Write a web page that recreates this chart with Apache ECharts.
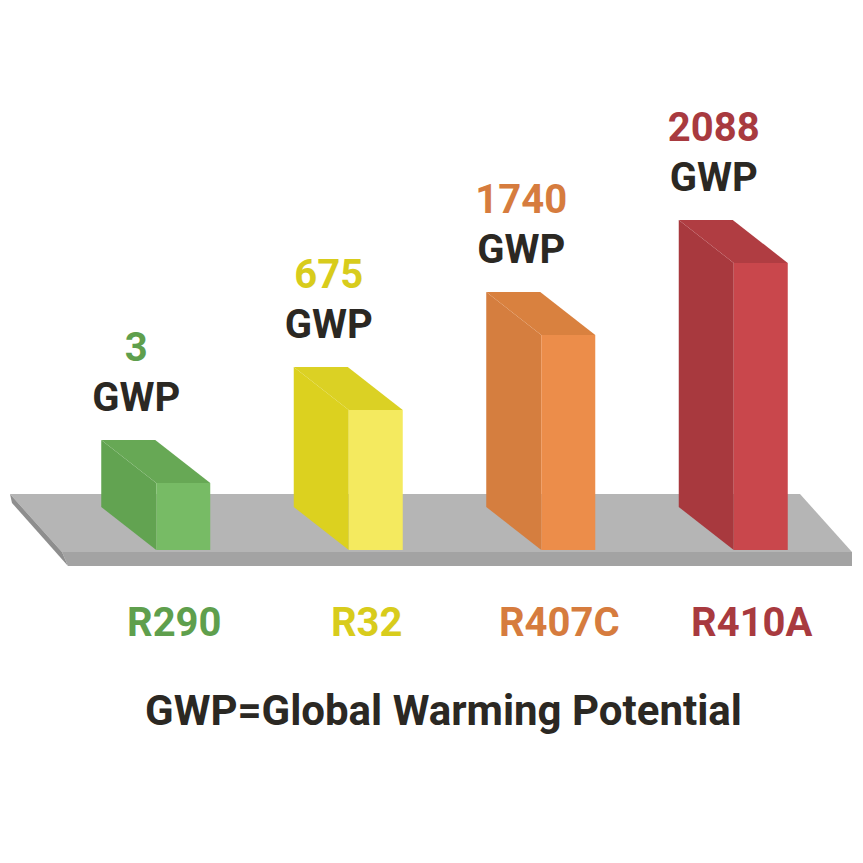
<!DOCTYPE html>
<html>
<head>
<meta charset="utf-8">
<script src="https://cdn.jsdelivr.net/npm/echarts@6/dist/echarts.min.js"></script>
<style>
  html, body { margin: 0; padding: 0; background: #fff; }
  #chart { width: 863px; height: 863px; }
</style>
</head>
<body>
<div id="chart"></div>
<script>
// refrigerants and their GWP
var categories = ['R290', 'R32', 'R407C', 'R410A'];
var gwpValues = [3, 675, 1740, 2088];
// drawn bar heights (not to scale with GWP)
var barHeights = [67, 140, 215, 287];

var frontColors = ['#77bb65', '#f4ea5f', '#ec8d4a', '#c9474c'];
var sideColors = ['#62a351', '#dcd11f', '#d57e3f', '#a8393e'];
var topColors = ['#67a855', '#dbd124', '#d9813f', '#b03d42'];
var labelColors = ['#5f9f4d', '#d8cc1c', '#d67c3e', '#a83a3f'];
var dark = '#2b2823';
var font = 'Roboto';

var myChart = echarts.init(document.getElementById('chart'), null, { renderer: 'svg' });

function renderBar(params, api) {
  var i = api.value(0);
  var base = api.coord([i, 0]);
  var top = api.coord([i, api.value(1)]);
  var cx = base[0], B = base[1], T = top[1];
  var L = cx - 27, R = cx + 27;
  var dx = 55, dy = 43; // depth of the box
  return {
    type: 'group',
    children: [
      { type: 'polygon', shape: { points: [[L, T], [L - dx, T - dy], [L - dx, B - dy], [L, B]] },
        style: { fill: sideColors[i] } },
      { type: 'polygon', shape: { points: [[L, T], [R, T], [R - dx, T - dy], [L - dx, T - dy]] },
        style: { fill: topColors[i] } },
      { type: 'rect', shape: { x: L, y: T, width: R - L, height: B - T },
        style: { fill: frontColors[i] } },
      { type: 'text', x: cx - 47, y: T - dy - 68,
        style: {
          text: '{v|' + api.value(2) + '}\n{g|GWP}',
          align: 'center', verticalAlign: 'middle',
          rich: {
            v: { fontFamily: font, fontWeight: 'bold', fontSize: 40, lineHeight: 50, fill: labelColors[i] },
            g: { fontFamily: font, fontWeight: 'bold', fontSize: 40, lineHeight: 50, fill: dark }
          }
        } }
    ]
  };
}

var rich = {};
categories.forEach(function (c, i) {
  rich['c' + i] = { fontFamily: font, fontWeight: 'bold', fontSize: 40, color: labelColors[i] };
});

var option = {
  animation: false,
  title: {
    text: 'GWP=Global Warming Potential',
    left: 140,
    top: 684,
    textStyle: { fontFamily: font, fontWeight: 'bold', fontSize: 42, color: dark }
  },
  grid: { left: 87, right: 6, top: 150, bottom: 313 },
  xAxis: {
    type: 'category',
    data: categories,
    axisLine: { show: false },
    axisTick: { show: false },
    axisLabel: {
      margin: 52,
      padding: [0, 18, 0, 0],
      formatter: function (v, i) { return '{c' + i + '|' + v + '}'; },
      rich: rich
    }
  },
  yAxis: { type: 'value', min: 0, max: 400, show: false },
  graphic: [
    // grey floor
    { type: 'polygon', z: 0, shape: { points: [[10, 494], [800, 494], [852, 552], [62, 552]] }, style: { fill: '#b5b5b5' } },
    { type: 'polygon', z: 0, shape: { points: [[62, 552], [852, 552], [852, 566], [68, 566]] }, style: { fill: '#a3a3a3' } },
    { type: 'polygon', z: 0, shape: { points: [[10, 494], [62, 552], [68, 566], [12, 503]] }, style: { fill: '#8e8e8e' } }
  ],
  series: [{
    type: 'custom',
    z: 10,
    renderItem: renderBar,
    data: categories.map(function (c, i) { return [i, barHeights[i], gwpValues[i]]; })
  }]
};

myChart.setOption(option);
</script>
</body>
</html>
